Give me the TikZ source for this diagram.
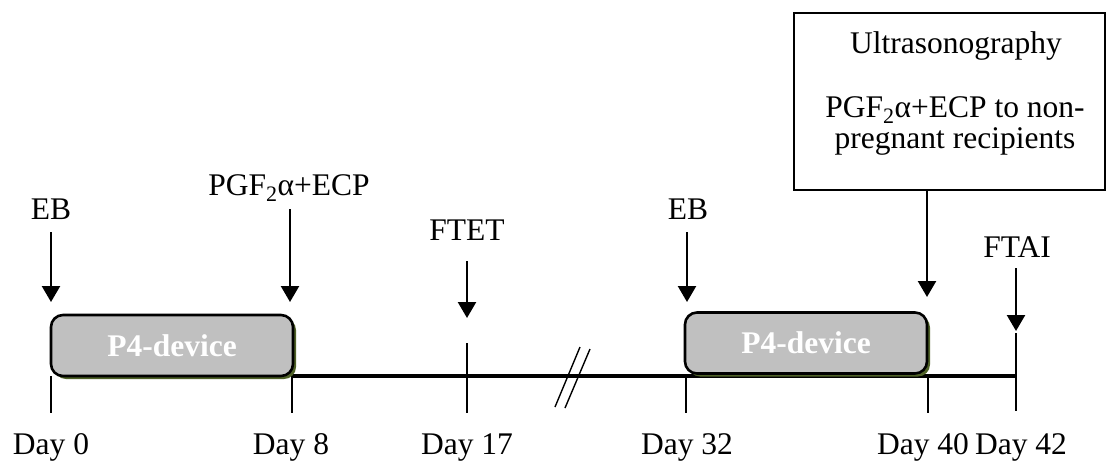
\documentclass[tikz,border=0pt]{standalone}
\usepackage{fontspec}
\setmainfont{Liberation Serif}
\usetikzlibrary{arrows.meta,shadows}
\definecolor{boxgray}{HTML}{C0C0C0}
\definecolor{shadowgreen}{HTML}{4F6228}
\begin{document}
\begin{tikzpicture}[x=1pt,y=-1pt,
  lbl/.style={anchor=base,inner sep=0pt,font=\fontsize{31.5}{36}\selectfont},
  pbox/.style={draw=black,line width=2.6pt,fill=boxgray,rounded corners=12pt,
    minimum width=242pt,minimum height=61pt,inner sep=0pt,
    text=white,font=\fontsize{31.5}{36}\selectfont\bfseries,
    drop shadow={shadow xshift=3pt,shadow yshift=-3pt,fill=shadowgreen,opacity=1}},
  arr/.style={line width=2.4pt,-{Triangle[width=18pt,length=16pt]}},
  tick/.style={line width=1.4pt},
  axis/.style={line width=4pt},
  slash/.style={line width=1.4pt}]
\useasboundingbox (0,0) rectangle (1108,461);
% timeline
\coordinate (t0) at (51,376);
\coordinate (t8) at (292,376);
\coordinate (t17) at (467,376);
\coordinate (t32) at (686,376);
\coordinate (t40) at (928,376);
\coordinate (t42) at (1016,376);
\draw[axis] (t8) -- (t42);
% ticks
\coordinate (k0) at (51,413);
\coordinate (k8) at (292,413);
\coordinate (k17a) at (467,343);
\coordinate (k17) at (467,413);
\coordinate (k32) at (686,413);
\coordinate (k40) at (928,413);
\coordinate (k42a) at (1016,333);
\coordinate (k42) at (1016,411);
\draw[tick] (t0) -- (k0);
\draw[tick] (t8) -- (k8);
\draw[tick] (k17a) -- (k17);
\draw[tick] (t32) -- (k32);
\draw[tick] (t40) -- (k40);
\draw[tick] (k42a) -- (k42);
% boxes
\node[pbox] (b1) at (172,345.5) {\raisebox{-0.5pt}{P4-device}};
\node[pbox] (b2) at (806,343) {\raisebox{-0.5pt}{P4-device}};
% break marks
\coordinate (s1a) at (555,407); \coordinate (s1b) at (580,347);
\coordinate (s2a) at (565,408); \coordinate (s2b) at (590,349);
\draw[slash] (s1a) -- (s1b);
\draw[slash] (s2a) -- (s2b);
% day labels
\node[lbl] (d0) at (51,454) {Day 0};
\node[lbl] (d8) at (291,454) {Day 8};
\node[lbl] (d17) at (467,454) {Day 17};
\node[lbl] (d32) at (687,454) {Day 32};
\node[lbl] (d40) at (923,454) {Day 40};
\node[lbl] (d42) at (1021,454) {Day 42};
% top labels
\node[lbl] (eb1) at (51,219) {EB};
\node[lbl] (pgf) at (289,195) {PGF\textsubscript{2}α+ECP};
\node[lbl] (ftet) at (467,240) {FTET};
\node[lbl] (eb2) at (688,219) {EB};
\node[lbl] (ftai) at (1017,257) {FTAI};
% arrows
\coordinate (a1s) at (51,232); \coordinate (a1e) at (51,302);
\coordinate (a2s) at (290,209); \coordinate (a2e) at (290,302);
\coordinate (a3s) at (467,261); \coordinate (a3e) at (467,318);
\coordinate (a4s) at (687,232); \coordinate (a4e) at (687,302);
\coordinate (a5e) at (927,297);
\coordinate (a6s) at (1016,268); \coordinate (a6e) at (1016,331);
\draw[arr] (a1s) -- (a1e);
\draw[arr] (a2s) -- (a2e);
\draw[arr] (a3s) -- (a3e);
\draw[arr] (a4s) -- (a4e);
\draw[arr] (a6s) -- (a6e);
% big box
\node[draw=black,line width=2pt,minimum width=311pt,minimum height=177pt,inner sep=0pt] (big) at (949.5,101.5) {};
\node[lbl] (u1) at (956,53) {Ultrasonography};
\node[lbl,align=center,font=\fontsize{31.5}{31}\selectfont] (u2) at (955,148)
  {PGF\textsubscript{2}α+ECP to non-\\pregnant recipients};
\draw[arr] (big.south -| a5e) -- (a5e);
\end{tikzpicture}
\end{document}
